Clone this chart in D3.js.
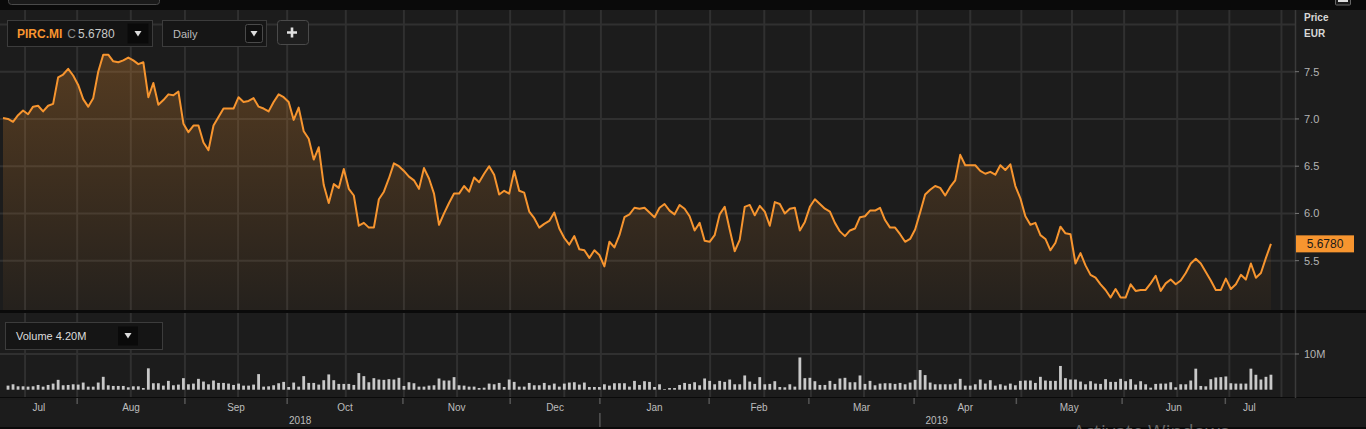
<!DOCTYPE html>
<html><head><meta charset="utf-8">
<script src="https://cdn.jsdelivr.net/npm/d3@7"></script>
<style>body{margin:0;background:#0b0b0b;overflow:hidden}svg{display:block}</style>
</head><body><svg id="c" width="1366" height="429"></svg>
<script>
// ---- data ----
const closes = [
7.01,7.00,6.97,7.04,7.09,7.05,7.13,7.14,7.08,7.14,
7.16,7.44,7.47,7.53,7.46,7.36,7.21,7.13,7.22,7.50,
7.68,7.68,7.61,7.60,7.62,7.65,7.62,7.58,7.60,7.23,
7.38,7.15,7.20,7.26,7.25,7.29,6.95,6.86,6.93,6.93,
6.75,6.67,6.93,7.02,7.11,7.11,7.11,7.23,7.18,7.19,
7.22,7.13,7.11,7.08,7.18,7.26,7.23,7.18,6.99,7.12,
6.87,6.79,6.57,6.70,6.30,6.11,
6.31,6.27,6.47,6.26,6.19,5.87,5.90,5.85,5.85,6.15,
6.23,6.37,6.53,6.50,6.45,6.39,6.35,6.26,6.48,6.37,
6.21,5.88,6.00,6.11,6.21,6.21,6.29,6.23,6.38,6.33,
6.42,6.50,6.41,6.20,6.24,6.21,6.45,6.24,6.22,6.02,
5.95,5.85,5.89,5.92,6.01,5.84,5.74,5.67,5.76,5.62,
5.61,5.53,5.61,5.56,5.44,5.70,5.64,5.77,5.96,5.99,
6.06,6.05,6.06,6.01,
5.96,6.06,6.10,6.03,5.99,6.09,6.05,5.97,5.82,5.90,
5.71,5.70,5.77,5.99,6.07,5.83,5.60,5.72,6.07,6.09,
5.98,6.08,6.02,5.87,6.12,6.10,6.00,6.05,6.06,5.82,
5.91,6.07,6.15,6.10,6.05,6.02,5.90,5.81,5.76,5.82,
5.84,5.96,5.97,6.03,6.03,6.06,5.93,5.85,5.85,5.78,
5.70,5.73,5.83,6.01,6.20,6.25,6.29,6.27,6.19,6.28,
6.35,6.62,6.51,6.51,
6.51,6.45,6.42,6.44,6.41,6.51,6.46,6.52,6.29,6.16,
5.97,5.88,5.90,5.77,5.73,5.61,5.69,5.86,5.79,5.78,
5.47,5.58,5.45,5.35,5.32,5.25,5.19,5.11,5.20,5.11,
5.11,5.25,5.18,5.19,5.19,5.26,5.34,5.18,5.26,5.30,
5.25,5.29,5.37,5.47,5.52,5.47,5.38,5.29,5.19,5.19,
5.31,5.20,5.25,5.35,5.30,5.47,5.32,5.37,5.53,5.678
];
// volume in millions (first day not shown)
const volumes = [
null,
1.14,1.52,0.95,0.95,0.86,0.95,1.33,0.86,1.33,1.71,
2.76,1.24,1.33,1.52,1.43,2.00,0.86,0.86,2.00,3.61,
1.24,1.05,1.05,1.05,0.67,0.95,0.95,0.48,5.99,1.81,
1.81,1.14,2.47,1.24,1.43,3.23,1.52,1.71,3.04,2.28,
1.52,2.57,1.90,1.90,1.71,1.33,1.71,1.14,1.14,1.43,
4.37,0.86,0.95,1.24,1.81,2.19,0.76,2.00,0.86,3.80,
1.90,1.90,1.43,2.66,4.28,
2.66,1.62,1.62,1.62,1.33,4.66,3.80,2.09,3.23,2.85,
2.76,2.95,2.85,3.33,1.05,2.09,1.81,0.86,0.86,1.14,
1.24,3.14,2.57,2.57,3.52,1.24,1.14,0.86,0.86,0.48,
0.57,1.71,1.52,1.90,0.76,2.85,2.19,0.86,0.86,1.90,
1.24,1.24,1.90,1.24,1.71,0.86,1.71,2.00,2.09,1.43,
2.00,0.76,0.76,0.76,1.52,1.14,1.81,1.81,1.81,0.86,
2.47,1.33,2.38,2.19,0.76,
1.52,0.19,0.48,0.48,1.33,1.90,1.62,2.09,1.24,3.14,
2.47,1.52,2.47,2.19,2.85,1.52,1.52,3.99,2.28,1.62,
3.52,1.52,1.62,2.38,0.76,0.67,1.52,0.86,9.03,3.23,
3.33,2.38,1.33,1.33,2.47,1.62,3.14,3.33,2.09,2.09,
3.99,1.62,2.47,1.24,1.71,1.81,1.81,1.62,1.90,1.52,
2.00,2.76,5.51,4.09,2.00,1.52,1.52,1.52,1.52,1.71,
3.04,1.14,1.14,1.52,2.85,
1.71,2.66,1.14,1.52,1.14,1.71,1.24,2.47,2.57,2.57,
1.90,3.61,2.57,2.47,2.47,6.65,3.23,2.85,2.85,2.28,
1.52,2.38,1.71,1.62,2.95,2.19,2.19,3.04,2.38,2.95,
1.43,2.38,1.52,0.57,1.62,1.71,1.71,2.09,0.67,1.52,
1.52,2.57,5.89,1.05,0.95,2.95,3.42,3.52,3.71,1.81,
1.71,1.71,1.71,5.89,4.18,2.85,3.61,4.20
];
const monthLabels = ["Jul","Aug","Sep","Oct","Nov","Dec","Jan","Feb","Mar","Apr","May","Jun","Jul"];
const monthStarts = [14.8,36.3,56.7,79.8,101.2,119.1,140.9,160.8,181.8,202.2,223.3,243.9];
const yearLabels = ["2018","2019"];
const yearStart = [119.1];
const gridDays = [4.4,14.8,25.5,36.3,46.9,56.7,68.4,80.0,90.6,101.2,112.0,119.3,130.3,141.1,151.9,161.2,171.8,182.4,193.0,203.2,213.3,223.7,234.3,244.7,255.1];
const priceTicks = [5.5,6.0,6.5,7.0,7.5];
const priceGrid = [5.5,6.0,6.5,7.0,7.5,8.0];
const volTicks = [10];
const lastPrice = "5.6780";
const symbol = "PIRC.MI";
const interval = "Daily";
const volText = "Volume 4.20M";

// ---- drawing ----
const W=1366,H=429;
const FONT="'Liberation Sans', Arial, sans-serif";
const svg=d3.select('#c').style('font-family',FONT);
const BG='#1c1c1c', GRID='#303030', ORANGE='#f7952f';
const P={t:10,b:310}, V={t:313,b:397}, A={t:398,b:427}, R=1295;

const x=d3.scaleLinear().domain([-0.6,257.8]).range([0,R]);
const y=d3.scaleLinear().domain([4.978,8.153]).range([P.b,P.t]);
const vy=d3.scaleLinear().domain([0,10]).range([389.7,354]);

svg.append('rect').attr('width',W).attr('height',H).attr('fill','#0a0a0a');
[[P.t,P.b],[V.t,V.b],[A.t,A.b]].forEach(([a,b])=>{
  svg.append('rect').attr('x',0).attr('y',a).attr('width',W).attr('height',b-a).attr('fill',BG);
});

const defs=svg.append('defs');
const g1=defs.append('linearGradient').attr('id','ag').attr('gradientUnits','userSpaceOnUse')
  .attr('x1',0).attr('x2',0).attr('y1',40).attr('y2',P.b);
g1.append('stop').attr('offset',0).attr('stop-color',ORANGE).attr('stop-opacity',0.27);
g1.append('stop').attr('offset',1).attr('stop-color',ORANGE).attr('stop-opacity',0.04);

// grids
const grid=svg.append('g').attr('stroke',GRID).attr('stroke-width',2);
gridDays.forEach(d=>{
  grid.append('line').attr('x1',x(d)).attr('x2',x(d)).attr('y1',P.t).attr('y2',P.b);
  grid.append('line').attr('x1',x(d)).attr('x2',x(d)).attr('y1',V.t).attr('y2',V.b);
});
priceGrid.forEach(v=>grid.append('line').attr('x1',0).attr('x2',R).attr('y1',y(v)).attr('y2',y(v)));
volTicks.forEach(v=>grid.append('line').attr('x1',0).attr('x2',R).attr('y1',vy(v)).attr('y2',vy(v)));

// area + line
svg.append('path').datum(closes)
  .attr('d',d3.area().x((d,i)=>x(i)).y0(P.b).y1(d=>y(d)))
  .attr('fill','url(#ag)');
svg.append('path').datum(closes)
  .attr('d',d3.line().x((d,i)=>x(i)).y(d=>y(d)))
  .attr('fill','none').attr('stroke',ORANGE).attr('stroke-width',2).attr('stroke-linejoin','round');

// volume bars
svg.append('g').selectAll('rect').data(volumes.map((v,i)=>({v,i})).filter(d=>d.v!=null))
  .join('rect').attr('x',d=>x(d.i)-1.4).attr('width',2.8)
  .attr('y',d=>vy(d.v)).attr('height',d=>vy(0)-vy(d.v)).attr('fill','#c8c8c8');

// right axis
svg.append('line').attr('x1',R+0.5).attr('x2',R+0.5).attr('y1',P.t).attr('y2',A.t).attr('stroke','#3a3a3a').attr('stroke-width',1.5);
const ra=svg.append('g').attr('font-size',11).attr('fill','#b4b4b4');
priceTicks.forEach(v=>{
  ra.append('line').attr('x1',R).attr('x2',R+4).attr('y1',y(v)).attr('y2',y(v)).attr('stroke','#777');
  ra.append('text').attr('x',1304).attr('y',y(v)).attr('dy','0.36em').text(d3.format('.1f')(v));
});
volTicks.forEach(v=>{
  ra.append('line').attr('x1',R).attr('x2',R+4).attr('y1',vy(v)).attr('y2',vy(v)).attr('stroke','#777');
  ra.append('text').attr('x',1304).attr('y',vy(v)).attr('dy','0.36em').text(v+'M');
});
svg.append('text').attr('x',1304).attr('y',20.5).attr('font-size',10).attr('font-weight','bold').attr('fill','#d8d8d8').text('Price');
svg.append('text').attr('x',1304).attr('y',36.5).attr('font-size',10).attr('font-weight','bold').attr('fill','#d8d8d8').text('EUR');
svg.append('rect').attr('x',R+1).attr('y',y(closes[closes.length-1])-8.5).attr('width',58).attr('height',17).attr('fill',ORANGE);
svg.append('text').attr('x',R+30).attr('y',y(closes[closes.length-1])).attr('dy','0.36em').attr('text-anchor','middle')
  .attr('font-size',12).attr('fill','#1a1a1a').text(lastPrice);

// bottom axis
const ax=svg.append('g');
const bounds=[-0.5].concat(monthStarts,[253.5]);
monthStarts.forEach(d=>ax.append('line').attr('x1',x(d)).attr('x2',x(d)).attr('y1',A.t).attr('y2',A.t+6).attr('stroke','#555').attr('stroke-width',1.5));
monthLabels.forEach((m,i)=>{
  ax.append('text').attr('x',x((bounds[i]+bounds[i+1])/2)).attr('y',411).attr('text-anchor','middle')
    .attr('font-size',10).attr('fill','#bdbdbd').text(m);
});
const yb=[-0.5].concat(yearStart,[253.5]);
yearStart.forEach(d=>ax.append('line').attr('x1',x(d)).attr('x2',x(d)).attr('y1',413).attr('y2',427).attr('stroke','#555').attr('stroke-width',1.5));
yearLabels.forEach((t,i)=>{
  ax.append('text').attr('x',x((yb[i]+yb[i+1])/2)).attr('y',424).attr('text-anchor','middle')
    .attr('font-size',10).attr('fill','#bdbdbd').text(t);
});

// top header bits
svg.append('rect').attr('x',8.5).attr('y',-6).attr('width',151).attr('height',10.5).attr('rx',3).attr('fill','#1a1a1a').attr('stroke','#4a4a4a');
svg.append('rect').attr('x',1335.5).attr('y',-3).attr('width',15).attr('height',8).attr('rx',1).attr('fill','#1a1a1a').attr('stroke','#666');
svg.append('rect').attr('x',1338).attr('y',0).attr('width',10).attr('height',2).attr('fill','#ddd');

// controls
function box(x0,y0,w,h,fill,stroke,rx){
  return svg.append('rect').attr('x',x0).attr('y',y0).attr('width',w).attr('height',h).attr('rx',rx||0)
   .attr('fill',fill).attr('stroke',stroke).attr('stroke-width',1);
}
function tri(cx,cy,col){
  svg.append('path').attr('d',`M${cx-3.5},${cy-2.5}L${cx+3.5},${cy-2.5}L${cx},${cy+3}Z`).attr('fill',col);
}
box(7.5,20.5,145,26,'#141414','#3c3c3c');
const t1=svg.append('text').attr('x',17).attr('y',38).attr('font-size',12);
t1.append('tspan').attr('fill',ORANGE).attr('font-weight','bold').text(symbol);
t1.append('tspan').attr('fill','#8a8a8a').attr('dx',5).text('C');
t1.append('tspan').attr('fill','#c8c8c8').attr('dx',2).text(lastPrice);
box(128,24,20,19,'#0a0a0a','#0a0a0a');
tri(138,33.5,'#dddddd');

box(162.5,20.5,104,26,'#161616','#3c3c3c');
svg.append('text').attr('x',173).attr('y',37.5).attr('font-size',11).attr('fill','#bdbdbd').text(interval);
box(245.5,24.5,17,18,'#101010','#4a4a4a',2);
tri(254,33.5,'#dddddd');

box(277.5,20.5,31,24,'#1e1e1e','#4a4a4a',3);
svg.append('path').attr('d','M287,32.5H297M292,27.5V37.5').attr('stroke','#e0e0e0').attr('stroke-width',2.6);

box(5.5,322.5,157,27,'#151515','#3c3c3c');
svg.append('text').attr('x',16).attr('y',340).attr('font-size',11).attr('fill','#dddddd').text(volText);
box(118.5,327,19,18,'#0a0a0a','#0a0a0a');
tri(128,335.5,'#dddddd');

// watermark
svg.append('text').attr('x',1073).attr('y',438).attr('font-size',19).attr('font-family',"'Open Sans', sans-serif")
  .attr('fill','#8a8a8a').attr('opacity',0.7).text('Activate Windows');
</script></body></html>
